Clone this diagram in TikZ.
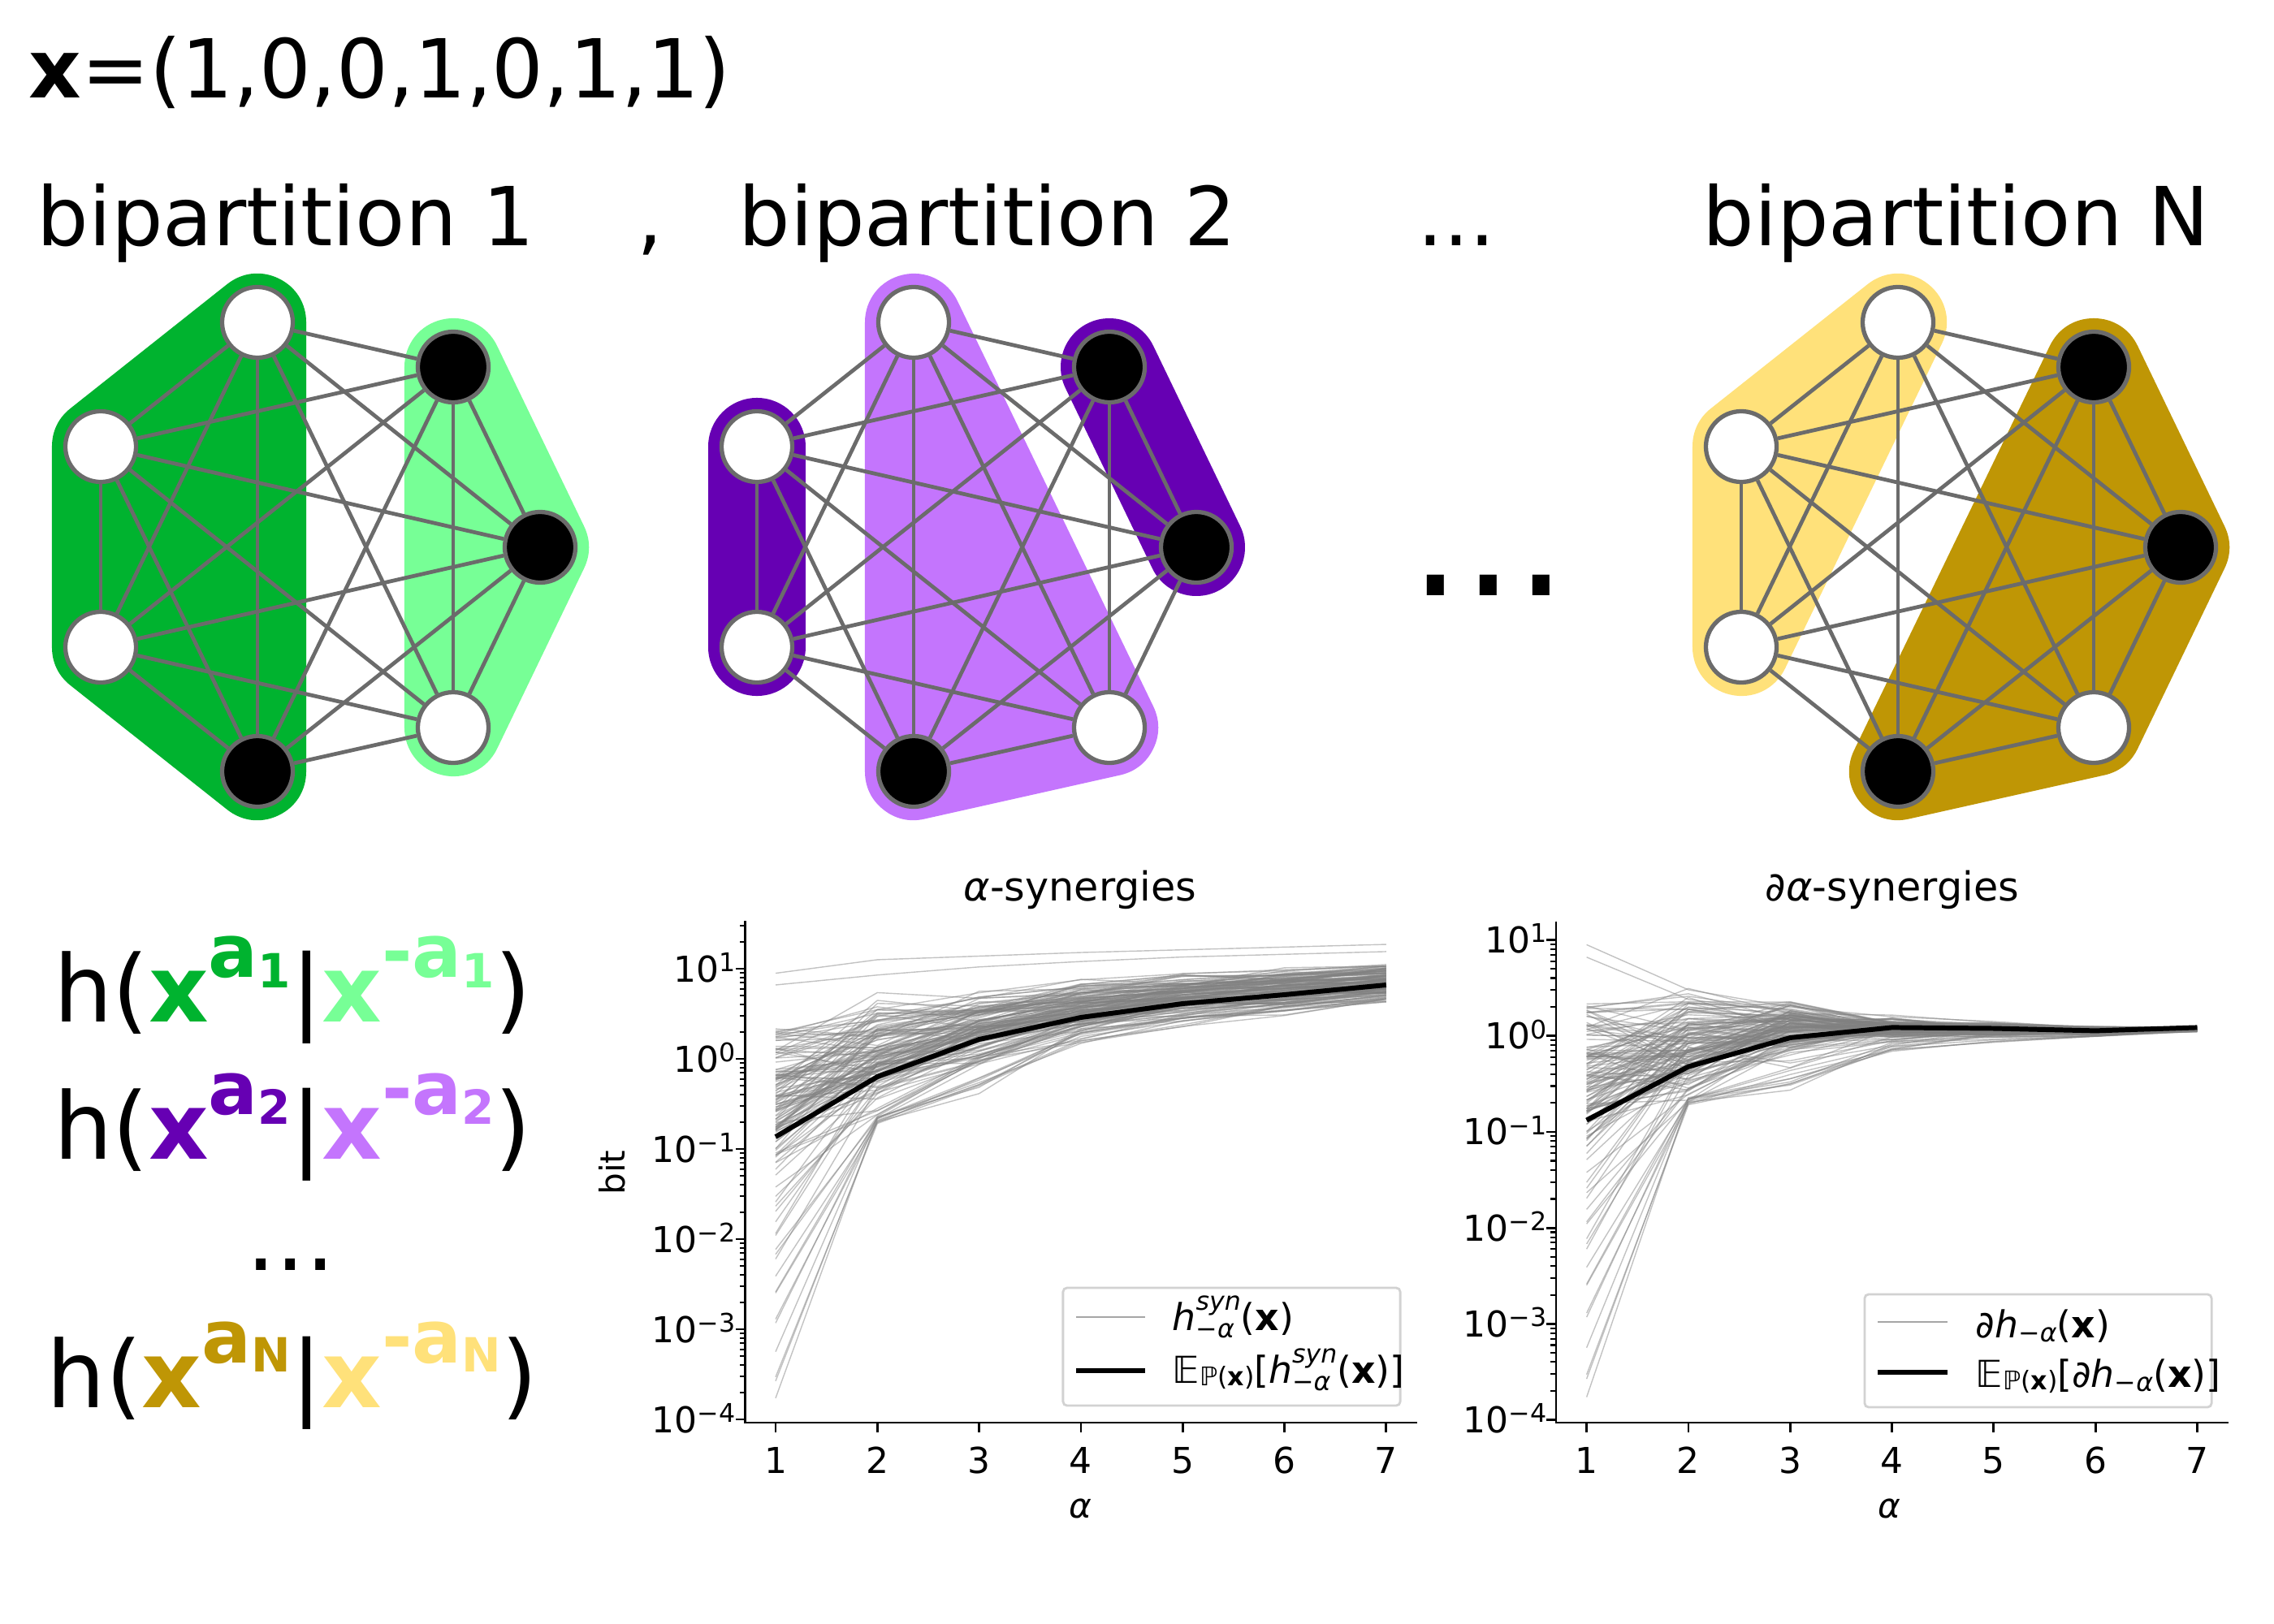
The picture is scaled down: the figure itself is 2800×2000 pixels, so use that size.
\documentclass[tikz,border=0pt]{standalone}
\usepackage{fontspec}
\setmainfont{DejaVu Sans}[ItalicFont={DejaVu Sans Oblique},BoldFont={DejaVu Sans Bold},BoldItalicFont={DejaVu Sans Bold Oblique}]
\definecolor{gA}{RGB}{0,179,47}
\definecolor{gB}{RGB}{119,255,150}
\definecolor{pA}{RGB}{102,0,179}
\definecolor{pB}{RGB}{196,117,253}
\definecolor{yA}{RGB}{191,150,5}
\definecolor{yB}{RGB}{255,225,122}
\definecolor{edgegray}{RGB}{107,107,107}
\definecolor{legframe}{RGB}{210,210,210}
\newcommand\fsz[1]{\fontsize{#1}{#1}\selectfont}
\newcommand\hpart[4]{h(\textcolor{#1}{\bfseries x\raisebox{15.6pt}{\fsz{25.7}a}\raisebox{#4}{\fsz{16.5}#3}}|\textcolor{#2}{\bfseries x\raisebox{15.6pt}{\fsz{25.7}-a}\raisebox{#4}{\fsz{16.5}#3}})}
\newcommand\supsub[4]{\begingroup\setbox0=\hbox{\fsz{9}#1}\setbox2=\hbox{\fsz{9}#2}%
\dimen0=\wd0 \ifdim\wd2>\dimen0 \dimen0=\wd2 \fi
\rlap{\raise#3\box0}\rlap{\lower#4\box2}\kern\dimen0\endgroup}
\newcommand\boldxx{{\bfseries x}}
\newcommand\hsyn{{\itshape h}\supsub{\itshape syn}{−{\itshape α}}{7pt}{2.6pt}}
\newcommand\dhalpha{{\itshape ∂h}\lower1.5pt\hbox{\fsz{9}−{\itshape α}}}
\newcommand\gcoords[2]{\foreach \n/\px/\py in {1/317/397,2/124/550,3/124/797,4/317/950,5/558/452,6/665/674,7/558/896}{\coordinate (#1c\n) at (\px+#2,\py);}}
\newcommand\gnodes[1]{%
 \foreach \n/\f in {1/white,2/white,3/white,4/black,5/black,6/black,7/white}{\node[gnode,fill=\f] (#1\n) at (#1c\n) {};}
 \foreach \a in {1,...,6}{\pgfmathtruncatemacro\s{\a+1}\foreach \b in {\s,...,7}{\draw[gedge] (#1\a) -- (#1\b);}}}
\begin{document}
\begin{tikzpicture}[x=0.01cm,y=-0.01cm,
 gnode/.style={circle, draw=edgegray, line width=1.5pt, minimum size=0.87cm, inner sep=0pt},
 gedge/.style={draw=edgegray, line width=1.35pt},
 hull/.style={line width=1.2cm, line join=round, line cap=round},
 txtbig/.style={font=\fsz{28.5}, inner sep=0pt},
 formula/.style={font=\fsz{32.5}, inner sep=0pt, anchor=base},
 spine/.style={line width=0.8pt},
 majortick/.style={line width=0.8pt},
 minortick/.style={line width=0.6pt},
 ticklab/.style={font=\fsz{12.5}, inner sep=0pt},
 dataline/.style={draw=gray, line width=0.4pt, opacity=0.48},
 meanline/.style={draw=black, line width=1.7pt, line join=round},
 legbox/.style={draw=legframe, fill=white, line width=0.8pt, rounded corners=0.05cm},
 legtxt/.style={font=\fsz{13}, inner sep=0pt, anchor=base west}]
\useasboundingbox (0,0) rectangle (2800,2000);

% header texts
\node[txtbig, anchor=base west] (xvec) at (35,121) {\textbf{x}=(1,0,0,1,0,1,1)};
\node[txtbig, anchor=base west] (bp1) at (45,302) {bipartition 1};
\node[txtbig, anchor=base west] (comma) at (784,302) {,};
\node[txtbig, anchor=base west] (bp2) at (909,302) {bipartition 2};
\node[txtbig, anchor=base west] (dotsA) at (1745,302) {...};
\node[txtbig, anchor=base west] (bpN) at (2096,302) {bipartition N};
\node[anchor=base west, inner sep=0pt, font=\fsz{58}] (dotsbig) at (1735,733) {...};

% graph 1
\gcoords{A}{0}
\filldraw[fill=gA, draw=gA, hull] (Ac1)--(Ac2)--(Ac3)--(Ac4)--cycle;
\filldraw[fill=gB, draw=gB, hull] (Ac5)--(Ac6)--(Ac7)--cycle;
\gnodes{A}
% graph 2
\gcoords{B}{808}
\draw[pA, hull] (Bc2)--(Bc3);
\draw[pA, hull] (Bc5)--(Bc6);
\filldraw[fill=pB, draw=pB, hull] (Bc1)--(Bc7)--(Bc4)--cycle;
\gnodes{B}
% graph 3
\gcoords{C}{2020}
\filldraw[fill=yB, draw=yB, hull] (Cc1)--(Cc2)--(Cc3)--cycle;
\filldraw[fill=yA, draw=yA, hull] (Cc5)--(Cc6)--(Cc7)--(Cc4)--cycle;
\gnodes{C}

% formulas
\node[formula] (f1) at (360,1258.5) {\hpart{gA}{gB}{1}{12pt}};
\node[formula] (f2) at (360,1427) {\hpart{pA}{pB}{2}{12pt}};
\node[formula] (fd) at (358,1564) {...};
\node[formula] (f3) at (360,1733) {\hpart{yA}{yB}{N}{12.4pt}};

% ---------- data lines ----------
\pgfmathsetseed{2024}
\foreach \i in {1,...,125}{
 \pgfmathsetmacro\z{(rand+rand+rand)/3}
 \pgfmathsetmacro\va{-0.45+0.8*\z+0.55*rand}
 \pgfmathsetmacro\vb{0.05+0.75*\z+0.3*rand}
 \pgfmathsetmacro\vc{0.34+0.55*\z+0.15*rand}
 \pgfmathsetmacro\vd{0.56+0.42*\z+0.1*rand}
 \pgfmathsetmacro\ve{0.69+0.36*\z+0.08*rand}
 \pgfmathsetmacro\vf{0.78+0.32*\z+0.07*rand}
 \pgfmathsetmacro\vg{0.86+0.3*\z+0.06*rand}
 \draw[dataline] (955,{1304-111*\va}) -- (1080.3,{1304-111*\vb}) -- (1205.6,{1304-111*\vc}) -- (1330.9,{1304-111*\vd}) -- (1456.2,{1304-111*\ve}) -- (1581.5,{1304-111*\vf}) -- (1706.8,{1304-111*\vg});
 \pgfmathsetmacro\wb{-0.12+0.5*\z+0.35*rand}
 \pgfmathsetmacro\wc{0.08+0.3*\z+0.18*rand}
 \pgfmathsetmacro\wd{0.08+0.12*\z+0.07*rand}
 \pgfmathsetmacro\we{0.07+0.07*\z+0.04*rand}
 \pgfmathsetmacro\wf{0.05+0.04*\z+0.03*rand}
 \pgfmathsetmacro\wg{0.07+0.02*\z+0.02*rand}
 \draw[dataline] (1953.6,{1275.7-118.2*\va}) -- (2078.9,{1275.7-118.2*\wb}) -- (2204.2,{1275.7-118.2*\wc}) -- (2329.5,{1275.7-118.2*\wd}) -- (2454.8,{1275.7-118.2*\we}) -- (2580.1,{1275.7-118.2*\wf}) -- (2705.4,{1275.7-118.2*\wg});
}
% steep tail lines
\foreach \i in {1,...,9}{
 \pgfmathsetmacro\va{-3.1+0.7*rand}
 \pgfmathsetmacro\vb{-0.68+0.04*rand}
 \pgfmathsetmacro\vc{-0.3+0.1*rand}
 \pgfmathsetmacro\vd{0.25+0.1*rand}
 \pgfmathsetmacro\ve{0.45+0.08*rand}
 \pgfmathsetmacro\vf{0.58+0.06*rand}
 \pgfmathsetmacro\vg{0.68+0.05*rand}
 \draw[dataline] (955,{1304-111*\va}) -- (1080.3,{1304-111*\vb}) -- (1205.6,{1304-111*\vc}) -- (1330.9,{1304-111*\vd}) -- (1456.2,{1304-111*\ve}) -- (1581.5,{1304-111*\vf}) -- (1706.8,{1304-111*\vg});
 \pgfmathsetmacro\wc{-0.45+0.12*rand}
 \pgfmathsetmacro\wd{-0.12+0.08*rand}
 \pgfmathsetmacro\we{-0.02+0.05*rand}
 \pgfmathsetmacro\wf{0.02+0.03*rand}
 \pgfmathsetmacro\wg{0.05+0.02*rand}
 \draw[dataline] (1953.6,{1275.7-118.2*\va}) -- (2078.9,{1275.7-118.2*\vb}) -- (2204.2,{1275.7-118.2*\wc}) -- (2329.5,{1275.7-118.2*\wd}) -- (2454.8,{1275.7-118.2*\we}) -- (2580.1,{1275.7-118.2*\wf}) -- (2705.4,{1275.7-118.2*\wg});
}
\foreach \i in {1,...,10}{
 \pgfmathsetmacro\va{-1.85+0.45*rand}
 \pgfmathsetmacro\vb{-0.3+0.4*rand}
 \pgfmathsetmacro\vc{0.1+0.2*rand}
 \pgfmathsetmacro\vd{0.4+0.12*rand}
 \pgfmathsetmacro\ve{0.56+0.1*rand}
 \pgfmathsetmacro\vf{0.67+0.08*rand}
 \pgfmathsetmacro\vg{0.76+0.07*rand}
 \draw[dataline] (955,{1304-111*\va}) -- (1080.3,{1304-111*\vb}) -- (1205.6,{1304-111*\vc}) -- (1330.9,{1304-111*\vd}) -- (1456.2,{1304-111*\ve}) -- (1581.5,{1304-111*\vf}) -- (1706.8,{1304-111*\vg});
 \pgfmathsetmacro\wb{-0.4+0.35*rand}
 \pgfmathsetmacro\wc{-0.15+0.2*rand}
 \pgfmathsetmacro\wd{0.0+0.1*rand}
 \pgfmathsetmacro\we{0.03+0.05*rand}
 \pgfmathsetmacro\wf{0.04+0.03*rand}
 \pgfmathsetmacro\wg{0.06+0.02*rand}
 \draw[dataline] (1953.6,{1275.7-118.2*\va}) -- (2078.9,{1275.7-118.2*\wb}) -- (2204.2,{1275.7-118.2*\wc}) -- (2329.5,{1275.7-118.2*\wd}) -- (2454.8,{1275.7-118.2*\we}) -- (2580.1,{1275.7-118.2*\wf}) -- (2705.4,{1275.7-118.2*\wg});
}
% outlier lines
\draw[dataline] (955,{1304-111*0.95}) -- (1080.3,{1304-111*1.10}) -- (1205.6,{1304-111*1.14}) -- (1330.9,{1304-111*1.18}) -- (1456.2,{1304-111*1.21}) -- (1581.5,{1304-111*1.24}) -- (1706.8,{1304-111*1.27});
\draw[dataline] (955,{1304-111*0.82}) -- (1080.3,{1304-111*0.93}) -- (1205.6,{1304-111*1.02}) -- (1330.9,{1304-111*1.08}) -- (1456.2,{1304-111*1.13}) -- (1581.5,{1304-111*1.16}) -- (1706.8,{1304-111*1.19});
\draw[dataline] (1953.6,{1275.7-118.2*0.95}) -- (2078.9,{1275.7-118.2*0.48}) -- (2204.2,{1275.7-118.2*0.3}) -- (2329.5,{1275.7-118.2*0.2}) -- (2454.8,{1275.7-118.2*0.15}) -- (2580.1,{1275.7-118.2*0.08}) -- (2705.4,{1275.7-118.2*0.07});
\draw[dataline] (1953.6,{1275.7-118.2*0.82}) -- (2078.9,{1275.7-118.2*0.38}) -- (2204.2,{1275.7-118.2*0.25}) -- (2329.5,{1275.7-118.2*0.15}) -- (2454.8,{1275.7-118.2*0.1}) -- (2580.1,{1275.7-118.2*0.05}) -- (2705.4,{1275.7-118.2*0.06});

% mean lines
\draw[meanline] (955,1400) -- (1080.3,1326) -- (1205.6,1280) -- (1330.9,1253) -- (1456.2,1236) -- (1581.5,1225) -- (1706.8,1213);
\draw[meanline] (1953.6,1379.6) -- (2078.9,1313.6) -- (2204.2,1278) -- (2329.5,1265.4) -- (2454.8,1266.5) -- (2580.1,1269.4) -- (2705.4,1265.4);

% axes plot 1
\draw[spine] (917.6,1134) -- (917.6,1752) -- (1745,1752);
\foreach \k in {1,...,7}{\pgfmathsetmacro\xx{955+125.3*(\k-1)}
 \draw[majortick] (\xx,1752) -- (\xx,1764);
 \node[ticklab, anchor=base] at (\xx,1814) {\k};}
\foreach \k/\lab in {-4/−4,-3/−3,-2/−2,-1/−1,0/0,1/1}{\pgfmathsetmacro\yy{1304-111*\k}
 \draw[majortick] (917.6,\yy) -- (905.6,\yy);
 \node[ticklab, anchor=base east] at (906,\yy+16) {10\raisebox{3.6pt}{\fsz{9}\lab}};}
\foreach \k in {-4,...,0}{\foreach \m in {2,...,9}{\pgfmathsetmacro\yy{1304-111*(\k+log10(\m))}
 \draw[minortick] (917.6,\yy) -- (910.6,\yy);}}
\foreach \m in {2,3}{\pgfmathsetmacro\yy{1304-111*(1+log10(\m))}
 \draw[minortick] (917.6,\yy) -- (910.6,\yy);}
\node[font=\fsz{14}, inner sep=0pt, anchor=base] (t1) at (1330,1109) {{\itshape α}-synergies};
\node[font=\fsz{12}, inner sep=0pt, anchor=base] (xl1) at (1330,1869) {\itshape α};
\node[font=\fsz{12}, inner sep=0pt, rotate=90] (yl1) at (754,1444) {bit};

% axes plot 2
\draw[spine] (1916,1134.6) -- (1916,1752) -- (2743.6,1752);
\foreach \k in {1,...,7}{\pgfmathsetmacro\xx{1953.6+125.3*(\k-1)}
 \draw[majortick] (\xx,1752) -- (\xx,1764);
 \node[ticklab, anchor=base] at (\xx,1814) {\k};}
\foreach \k/\lab in {-4/−4,-3/−3,-2/−2,-1/−1,0/0,1/1}{\pgfmathsetmacro\yy{1275.7-118.2*\k}
 \draw[majortick] (1916,\yy) -- (1904,\yy);
 \node[ticklab, anchor=base east] at (1905,\yy+16) {10\raisebox{3.6pt}{\fsz{9}\lab}};}
\foreach \k in {-4,...,0}{\foreach \m in {2,...,9}{\pgfmathsetmacro\yy{1275.7-118.2*(\k+log10(\m))}
 \draw[minortick] (1916,\yy) -- (1909,\yy);}}
\node[font=\fsz{14}, inner sep=0pt, anchor=base] (t2) at (2330,1109) {{\itshape ∂α}-synergies};
\node[font=\fsz{12}, inner sep=0pt, anchor=base] (xl2) at (2326,1869) {\itshape α};

% legends
\node[legbox, minimum width=4.15cm, minimum height=1.45cm] (leg1) at (1516.5,1658.5) {};
\draw[draw=gray!70, line width=0.5pt] (1325,1622) -- (1410,1622);
\draw[black, line width=1.7pt] (1325,1688) -- (1410,1688);
\node[legtxt] (l1a) at (1443,1638) {\hsyn(\boldxx)};
\node[legtxt] (l1b) at (1443,1703) {𝔼\lower1pt\hbox{\fsz{9}ℙ(\boldxx)}[\hsyn(\boldxx)]};

\node[legbox, minimum width=4.27cm, minimum height=1.39cm] (leg2) at (2509.5,1663.5) {};
\draw[draw=gray!70, line width=0.5pt] (2312,1628) -- (2398,1628);
\draw[black, line width=1.7pt] (2312,1690) -- (2398,1690);
\node[legtxt] (l2a) at (2432,1647) {\dhalpha(\boldxx)};
\node[legtxt] (l2b) at (2432,1708) {𝔼\lower1pt\hbox{\fsz{9}ℙ(\boldxx)}[\dhalpha(\boldxx)]};
\end{tikzpicture}
\end{document}
